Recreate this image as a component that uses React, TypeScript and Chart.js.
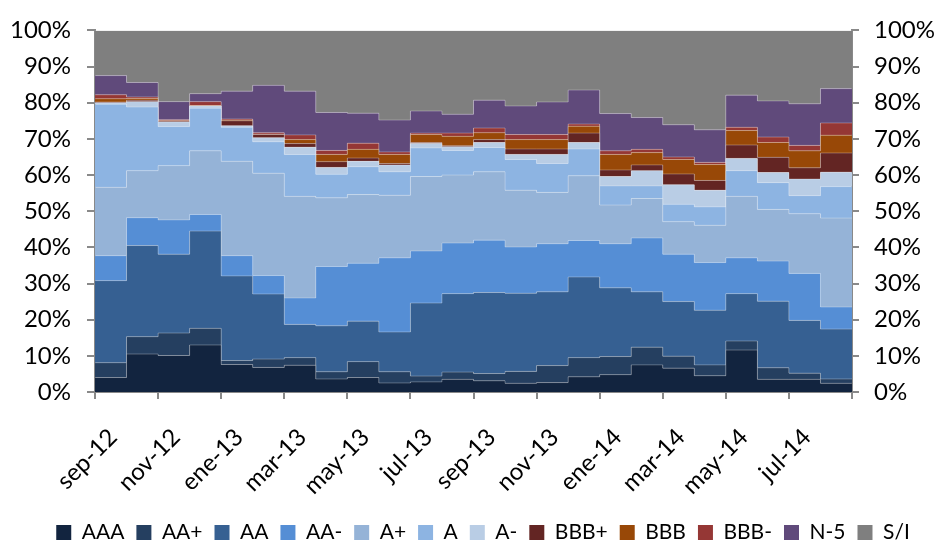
import React, { useEffect, useRef } from 'react';
import { Chart, registerables } from 'chart.js';

Chart.register(...registerables);

const months = [
  'sep-12', 'oct-12', 'nov-12', 'dic-12', 'ene-13', 'feb-13', 'mar-13', 'abr-13',
  'may-13', 'jun-13', 'jul-13', 'ago-13', 'sep-13', 'oct-13', 'nov-13', 'dic-13',
  'ene-14', 'feb-14', 'mar-14', 'abr-14', 'may-14', 'jun-14', 'jul-14', 'ago-14',
];

const yTickLabels = ['0%', '10%', '20%', '30%', '40%', '50%', '60%', '70%', '80%', '90%', '100%'];

const seriesNames = ['AAA', 'AA+', 'AA', 'AA-', 'A+', 'A', 'A-', 'BBB+', 'BBB', 'BBB-', 'N-5', 'S/I'];
const seriesColors = [
  '#12243F', '#253F60', '#366092', '#558ED5', '#95B3D7', '#8DB4E2',
  '#B9CDE5', '#632523', '#984807', '#953735', '#604A7B', '#7F7F7F',
];

const AAA = [4.0, 10.5, 10.1, 13.0, 7.6, 6.8, 7.4, 3.6, 4.0, 2.5, 2.8, 3.5, 3.1, 2.4, 2.6, 4.2, 4.8, 7.5, 6.6, 4.5, 11.6, 3.5, 3.5, 2.4];
const AA_PLUS = [4.1, 4.8, 6.2, 4.6, 1.1, 2.3, 2.1, 2.0, 4.4, 3.1, 1.6, 2.0, 2.0, 3.3, 4.7, 5.3, 5.0, 4.9, 3.3, 3.0, 2.5, 3.2, 1.7, 1.2];
const AA = [22.7, 25.2, 21.8, 26.9, 23.4, 18.0, 9.2, 12.7, 11.2, 11.0, 20.2, 21.7, 22.4, 21.6, 20.4, 22.3, 19.0, 15.3, 15.1, 15.1, 13.1, 18.4, 14.6, 13.8];
const AA_MINUS = [6.9, 7.7, 9.5, 4.6, 5.6, 5.1, 7.3, 16.4, 16.0, 20.5, 14.4, 14.0, 14.5, 12.8, 13.3, 10.1, 12.2, 14.9, 13.1, 13.2, 9.9, 11.1, 13.0, 6.1];
const A_PLUS = [18.9, 13.0, 15.0, 17.6, 26.1, 28.3, 28.1, 19.0, 19.0, 17.3, 20.6, 18.8, 18.9, 15.7, 14.2, 17.9, 10.7, 10.9, 9.0, 10.3, 17.0, 14.3, 16.5, 24.6];
const A = [23.0, 17.6, 10.8, 11.8, 9.4, 8.7, 11.6, 6.5, 7.7, 6.5, 7.9, 6.8, 6.7, 8.5, 8.0, 7.4, 5.3, 3.5, 4.8, 5.1, 7.1, 7.4, 5.0, 8.7];
const A_MINUS = [0.4, 1.5, 1.3, 0.6, 0.4, 1.1, 2.0, 1.9, 1.5, 1.9, 1.2, 1.0, 1.4, 1.4, 2.5, 1.8, 2.6, 4.2, 5.4, 4.6, 3.4, 2.8, 4.6, 4.0];
const BBB_PLUS = [0.2, 0.4, 0.2, 0.0, 1.4, 0.9, 1.0, 1.6, 0.9, 0.4, 0.3, 0.3, 0.8, 1.5, 1.5, 2.6, 1.8, 1.6, 3.0, 2.7, 3.7, 4.2, 3.1, 5.3];
const BBB = [0.9, 0.5, 0.1, 0.1, 0.2, 0.1, 1.1, 2.0, 2.4, 2.5, 2.2, 2.6, 1.9, 2.6, 2.6, 1.9, 4.3, 3.4, 4.0, 4.4, 4.0, 4.1, 4.7, 4.9];
const BBB_MINUS = [1.1, 0.4, 0.3, 1.1, 0.3, 0.4, 1.3, 1.1, 1.7, 0.7, 0.4, 0.9, 1.3, 1.4, 1.4, 0.6, 1.0, 0.9, 0.7, 0.6, 0.9, 1.5, 1.5, 3.4];
const N_5 = [5.3, 4.0, 5.0, 2.2, 7.7, 13.1, 12.1, 10.5, 8.3, 8.8, 6.1, 5.2, 7.7, 7.9, 9.0, 9.4, 10.3, 8.8, 8.9, 9.0, 8.9, 10.0, 11.5, 9.5];
const S_I = [12.5, 14.4, 19.7, 17.5, 16.8, 15.2, 16.8, 22.7, 22.9, 24.8, 22.3, 23.2, 19.3, 20.9, 19.8, 16.5, 23.0, 24.1, 26.1, 27.5, 17.9, 19.5, 20.3, 16.1];

const seriesValues = [AAA, AA_PLUS, AA, AA_MINUS, A_PLUS, A, A_MINUS, BBB_PLUS, BBB, BBB_MINUS, N_5, S_I];

const W = 938;
const H = 542;
const PLOT_LEFT = 95;
const PLOT_RIGHT = 852;
const PLOT_TOP = 25;
const PLOT_BOTTOM = 392;
const BOTTOM_PAD = -11;
const LEGEND_SHIFT = 14;
const FONT = "Lato, 'Open Sans', sans-serif";
const AXIS_GRAY = '#898989';

const legendShiftPlugin = {
  id: 'legendShift',
  afterLayout(chart: any) {
    const l = chart.legend;
    if (l) {
      l.left += LEGEND_SHIFT;
      l.right += LEGEND_SHIFT;
    }
  },
};

export default function App() {
  const ref = useRef<HTMLCanvasElement | null>(null);

  useEffect(() => {
    if (!ref.current) return;
    const n = months.length;
    const datasets = seriesValues.map((vals, k) => ({
      label: seriesNames[k],
      data: [...vals.map((v, i) => ({ x: i, y: v })), { x: n, y: vals[n - 1] }],
      backgroundColor: seriesColors[k],
      borderColor: 'rgba(255,255,255,0.28)',
      borderWidth: 1,
      fill: k === 0 ? 'origin' : '-1',
      stepped: 'before' as const,
      pointRadius: 0,
      pointHoverRadius: 0,
      yAxisID: 'y',
    }));

    const tickFont = { family: FONT, size: 24 };

    const chart = new Chart(ref.current, {
      type: 'line',
      data: { datasets },
      plugins: [legendShiftPlugin],
      options: {
        animation: false,
        responsive: true,
        maintainAspectRatio: false,
        layout: { padding: { top: PLOT_TOP, left: 0, right: 0, bottom: BOTTOM_PAD } },
        plugins: {
          tooltip: { enabled: false },
          legend: {
            position: 'bottom',
            labels: {
              font: { family: FONT, size: 21 },
              color: '#000',
              boxWidth: 15,
              boxHeight: 15,
              padding: 12,
              generateLabels: (c: any) =>
                (Chart.defaults.plugins.legend.labels.generateLabels as any)(c).map((l: any) => ({
                  ...l,
                  strokeStyle: l.fillStyle,
                  lineWidth: 0,
                })),
            },
          },
        },
        scales: {
          x: {
            type: 'linear',
            min: 0,
            max: n,
            position: 'bottom',
            ticks: {
              stepSize: 2,
              autoSkip: false,
              maxRotation: 45,
              minRotation: 45,
              font: tickFont,
              color: '#000',
              padding: 24,
              labelOffset: 18,
              callback: (v: any) => (v % 2 === 0 && v < n ? months[v] : ''),
            },
            grid: {
              display: true,
              drawOnChartArea: false,
              drawTicks: true,
              tickLength: 7,
              color: AXIS_GRAY,
              tickColor: AXIS_GRAY,
              tickWidth: 2,
              lineWidth: 2,
            },
            border: { display: true, color: AXIS_GRAY, width: 2 },
            afterFit: (s: any) => {
              const lh = s.chart.legend ? s.chart.legend.height : 0;
              s.height = H - BOTTOM_PAD - lh - PLOT_BOTTOM;
            },
          },
          y: {
            type: 'linear',
            position: 'left',
            stacked: true,
            min: 0,
            max: 100,
            ticks: {
              stepSize: 10,
              font: tickFont,
              color: '#000',
              padding: 16,
              callback: (v: any) => yTickLabels[Math.round(v / 10)],
            },
            grid: { display: true, drawOnChartArea: false, drawTicks: true, tickLength: 8, color: AXIS_GRAY, lineWidth: 2 },
            border: { display: true, color: AXIS_GRAY, width: 2 },
            afterFit: (s: any) => {
              s.width = PLOT_LEFT;
            },
          },
          y2: {
            type: 'linear',
            position: 'right',
            min: 0,
            max: 100,
            ticks: {
              stepSize: 10,
              font: tickFont,
              color: '#000',
              padding: 15,
              callback: (v: any) => yTickLabels[Math.round(v / 10)],
            },
            grid: { display: true, drawOnChartArea: false, drawTicks: true, tickLength: 7, color: AXIS_GRAY, lineWidth: 2 },
            border: { display: true, color: AXIS_GRAY, width: 2 },
            afterFit: (s: any) => {
              s.width = W - PLOT_RIGHT;
            },
          },
        },
      } as any,
    });
    return () => chart.destroy();
  }, []);

  return (
    <div style={{ position: 'fixed', left: 0, top: 0, width: W, height: H, background: '#fff' }}>
      <canvas ref={ref} />
    </div>
  );
}
